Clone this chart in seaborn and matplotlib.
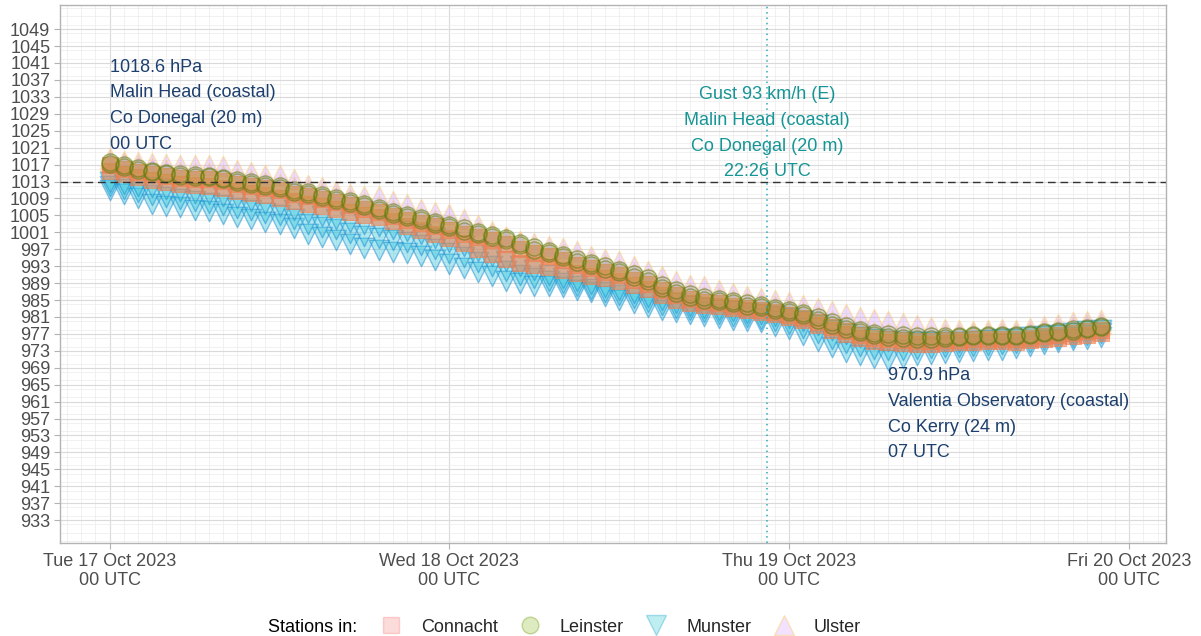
import numpy as np
import pandas as pd
import matplotlib
matplotlib.use("Agg")
import matplotlib.pyplot as plt
import seaborn as sns
from matplotlib.lines import Line2D
from matplotlib.ticker import FixedLocator, MultipleLocator

sns.set_theme(style="white")
plt.rcParams['font.family'] = ['Liberation Sans', 'DejaVu Sans']

# ---------------- data ----------------
hours = list(range(71))  # hours since Tue 17 Oct 2023 00 UTC

connacht_a = [1016.8,1016.0,1015.3,1014.7,1014.3,1013.9,1013.6,1013.5,1013.1,1012.5,
              1012.0,1011.5,1010.9,1010.1,1009.5,1008.9,1008.2,1007.4,1006.6,1005.8,
              1004.9,1004.0,1003.2,1002.4,1001.6,1000.7,999.9,999.1,998.2,997.0,
              996.1,995.3,994.4,993.3,992.5,991.7,990.9,989.8,988.8,987.3,
              986.1,985.2,984.5,984.2,983.7,983.1,982.7,982.1,981.5,980.8,
              979.8,978.6,977.6,976.8,976.1,975.7,975.5,975.3,975.3,975.5,
              975.6,975.8,975.9,975.9,975.8,976.1,976.5,976.8,977.2,977.6,978.0]
connacht_b = [1015.5,1014.8,1014.0,1013.4,1012.9,1012.5,1012.1,1011.9,1011.4,1010.8,
              1010.4,1009.8,1009.2,1008.4,1007.8,1007.2,1006.6,1005.9,1005.2,1004.5,
              1003.6,1002.6,1001.6,1000.6,999.6,998.4,997.0,995.8,994.6,993.8,
              993.2,992.7,992.2,991.4,990.7,990.1,989.5,988.5,987.6,986.2,
              985.0,984.3,983.8,983.6,983.2,982.6,982.2,981.6,981.0,980.2,
              979.1,977.9,976.9,976.1,975.4,975.0,974.8,974.7,974.7,974.9,
              975.0,975.2,975.3,975.3,975.2,975.5,975.8,976.1,976.4,976.8,977.1]
leinster_a = [1017.2,1016.5,1015.8,1015.2,1014.8,1014.4,1014.1,1014.0,1013.6,1013.0,
              1012.5,1012.0,1011.4,1010.6,1010.0,1009.4,1008.7,1007.9,1007.1,1006.3,
              1005.4,1004.5,1003.8,1003.0,1002.2,1001.4,1000.6,999.9,999.1,997.9,
              996.9,996.0,995.1,994.0,993.2,992.4,991.6,990.5,989.5,987.9,
              986.7,985.8,985.1,984.8,984.3,983.7,983.3,982.7,982.1,981.4,
              980.4,979.2,978.2,977.4,976.7,976.3,976.1,975.9,975.9,976.1,
              976.2,976.4,976.5,976.5,976.4,976.7,977.1,977.4,977.8,978.2,978.6]
leinster_b = [1017.5,1016.9,1016.2,1015.6,1015.1,1014.8,1014.5,1014.3,1013.9,1013.4,
              1012.9,1012.4,1011.9,1011.1,1010.5,1009.9,1009.2,1008.4,1007.6,1006.8,
              1005.9,1005.0,1004.3,1003.5,1002.7,1001.9,1001.1,1000.4,999.6,998.5,
              997.5,996.6,995.7,994.6,993.8,993.0,992.2,991.1,990.1,988.6,
              987.4,986.4,985.7,985.3,984.8,984.2,983.8,983.2,982.6,981.9,
              980.9,979.8,978.8,978.0,977.3,976.9,976.7,976.5,976.4,976.5,
              976.6,976.7,976.8,976.8,976.7,977.0,977.4,977.7,978.1,978.5,978.9]
munster_a = [1011.1,1010.0,1009.2,1007.6,1007.2,1006.9,1006.2,1006.0,1005.4,1004.7,
             1004.2,1003.5,1003.0,1001.9,1000.6,999.8,999.3,998.3,997.3,996.8,
             996.4,996.0,995.5,994.4,993.4,992.6,991.6,990.6,989.6,989.0,
             988.4,988.2,988.0,987.4,986.8,986.0,985.1,984.2,983.3,982.7,
             982.1,981.7,981.3,980.8,980.4,980.0,979.7,978.9,978.1,976.8,
             975.3,973.8,972.8,972.1,971.4,970.9,971.3,971.9,972.3,972.6,
             972.8,973.0,973.1,973.3,973.7,974.1,974.5,975.0,975.5,975.9,976.2]
munster_b = [1012.0,1011.3,1010.6,1009.8,1009.3,1008.8,1008.3,1008.0,1007.5,1006.8,
             1006.2,1005.6,1005.0,1004.1,1003.0,1002.3,1001.7,1000.9,1000.1,999.6,
             999.1,998.6,998.0,997.0,996.0,995.1,994.1,993.0,991.9,991.0,
             990.2,989.6,989.1,988.4,987.7,987.0,986.2,985.4,984.5,983.8,
             983.1,982.6,982.2,981.7,981.3,980.9,980.6,980.0,979.4,978.4,
             977.1,975.8,974.9,974.2,973.5,973.1,973.2,973.4,973.6,973.8,
             974.0,974.2,974.3,974.5,974.8,975.1,975.5,975.9,976.3,976.7,977.1]
munster_c = [1012.8,1012.4,1012.0,1011.6,1011.2,1010.8,1010.4,1010.1,1009.6,1009.0,
             1008.4,1007.8,1007.1,1006.3,1005.5,1004.8,1004.1,1003.5,1003.0,1002.4,
             1001.8,1001.2,1000.5,999.6,998.7,997.7,996.6,995.5,994.3,993.1,
             992.0,991.0,990.2,989.4,988.7,988.0,987.3,986.6,985.8,985.0,
             984.2,983.6,983.1,982.7,982.3,981.9,981.6,981.2,980.7,980.0,
             979.0,977.9,977.0,976.3,975.7,975.3,975.1,975.0,975.0,975.1,
             975.2,975.4,975.5,975.7,975.9,976.2,976.5,976.8,977.2,977.6,978.0]
ulster_a = [1018.6,1017.9,1017.7,1017.3,1017.1,1017.0,1016.9,1017.0,1016.6,1015.7,
            1015.2,1014.6,1014.6,1013.6,1012.2,1011.6,1010.8,1010.0,1009.6,1009.5,
            1008.4,1007.8,1006.4,1005.9,1005.3,1004.1,1002.8,1001.4,1000.0,998.9,
            998.4,997.7,997.2,996.5,995.4,994.8,994.2,993.0,991.8,990.6,
            989.6,988.6,988.2,987.4,986.6,986.0,985.4,985.0,984.6,983.8,
            983.0,982.3,981.7,981.1,980.5,980.1,979.6,979.0,978.6,978.2,
            977.9,977.8,978.0,978.1,977.9,978.3,978.9,979.3,979.7,980.1,980.2]
ulster_b = [1017.9,1017.3,1016.7,1016.1,1015.7,1015.3,1015.0,1014.9,1014.5,1013.9,
            1013.4,1012.9,1012.4,1011.6,1010.9,1010.3,1009.6,1008.8,1008.0,1007.2,
            1006.3,1005.4,1004.6,1003.8,1003.0,1002.2,1001.4,1000.6,999.8,998.6,
            997.6,996.7,995.8,994.8,994.0,993.2,992.4,991.3,990.3,988.7,
            987.5,986.6,985.9,985.6,985.1,984.5,984.1,983.5,982.9,982.2,
            981.2,980.0,979.0,978.2,977.5,977.1,976.9,976.7,976.7,976.9,
            977.0,977.2,977.3,977.3,977.2,977.5,977.9,978.2,978.6,979.0,979.4]

provinces = ["Connacht", "Leinster", "Munster", "Ulster"]
station_series = {
    "Connacht": [connacht_a, connacht_b],
    "Leinster": [leinster_a, leinster_b],
    "Munster": [munster_a, munster_b, munster_c],
    "Ulster": [ulster_a, ulster_b],
}

day_ticks = [0, 24, 48, 72]
day_labels = ["Tue 17 Oct 2023\n00 UTC", "Wed 18 Oct 2023\n00 UTC",
              "Thu 19 Oct 2023\n00 UTC", "Fri 20 Oct 2023\n00 UTC"]
y_ticks = list(range(933, 1050, 4))
mslp_ref = 1013
gust_hour = 46 + 26 / 60
max_hour, max_val = 0, 1018.6
min_hour, min_val = 55, 970.9

rows = []
for prov, series in station_series.items():
    for k, vals in enumerate(series):
        for h, v in zip(hours, vals):
            rows.append((prov, f"{prov}{k}", h, v))
df = pd.DataFrame(rows, columns=["province", "station", "hour", "pressure"])

# ---------------- styles ----------------
style = {
    "Ulster":   dict(marker="^", s=215, fc=(0.80, 0.58, 1.0, 0.32), ec=(1.0, 0.80, 0.40, 0.45), lw=1.0),
    "Munster":  dict(marker="v", s=215, fc=(0.22, 0.78, 0.87, 0.40), ec=(0.10, 0.55, 0.82, 0.50), lw=1.0),
    "Connacht": dict(marker="s", s=125, fc=(0.95, 0.50, 0.30, 0.58), ec=(0.95, 0.50, 0.30, 0.55), lw=0.8),
    "Leinster": dict(marker="o", s=150, fc=(0.55, 0.66, 0.20, 0.16), ec=(0.35, 0.48, 0.05, 0.55), lw=1.0),
}

fig = plt.figure(figsize=(12.01, 6.36), dpi=100)
ax = fig.add_axes([60 / 1201, 1 - 543 / 636, (1166 - 60) / 1201, (543 - 5) / 636])

for prov in ["Ulster", "Munster", "Connacht", "Leinster"]:
    st = style[prov]
    for stn in df.loc[df.province == prov, "station"].unique():
        sub = df[df.station == stn]
        sns.scatterplot(data=sub, x="hour", y="pressure", marker=st["marker"], s=st["s"],
                        color=st["fc"][:3], ax=ax, legend=False, zorder=3)
        coll = ax.collections[-1]
        coll.set_facecolor(st["fc"])
        coll.set_edgecolor(st["ec"])
        coll.set_linewidth(st["lw"])

ax.axhline(mslp_ref, color="#333333", lw=1.0, dashes=(5.5, 3.5), zorder=4)
ax.axvline(gust_hour, color="#2FA8B8", lw=1.1, linestyle=(0, (1, 2.5)), zorder=4)

ax.text(max_hour, 1030.9, f"{max_val} hPa\nMalin Head (coastal)\nCo Donegal (20 m)\n00 UTC",
        ha="left", va="center", fontsize=13, color="#1C3F6E", linespacing=1.66, zorder=5)
ax.text(gust_hour, 1024.4, "Gust 93 km/h (E)\nMalin Head (coastal)\nCo Donegal (20 m)\n22:26 UTC",
        ha="center", va="center", fontsize=13, color="#159595", linespacing=1.66, zorder=5)
ax.text(min_hour, 958.0, f"{min_val} hPa\nValentia Observatory (coastal)\nCo Kerry (24 m)\n07 UTC",
        ha="left", va="center", fontsize=13, color="#1C3F6E", linespacing=1.66, zorder=5)

ax.set_xlim(-3.5, 74.6)
ax.set_ylim(927.6, 1054.7)
ax.xaxis.set_major_locator(FixedLocator(day_ticks))
ax.xaxis.set_minor_locator(MultipleLocator(1))
ax.yaxis.set_major_locator(FixedLocator(y_ticks))
ax.yaxis.set_minor_locator(MultipleLocator(2))
ax.set_xticklabels(day_labels, linespacing=1.15)
ax.set_yticklabels([str(t) for t in y_ticks])
ax.set_xlabel("")
ax.set_ylabel("")

ax.set_facecolor("white")
ax.set_axisbelow(True)
ax.grid(which="major", color="#DADADA", lw=0.8)
ax.grid(which="minor", color="#EBEBEB", lw=0.5)
for sp in ax.spines.values():
    sp.set_visible(True)
    sp.set_color("#B3B3B3")
    sp.set_linewidth(1.0)
ax.tick_params(which="major", length=4, width=0.8, color="#B3B3B3",
               labelcolor="#4D4D4D", labelsize=13, pad=3, bottom=True, left=True)
ax.tick_params(which="minor", length=0)

# legend
fig.text(268 / 1201, 1 - 627 / 636, "Stations in:", fontsize=13, color="black", ha="left", va="center")
legend_style = {
    "Connacht": dict(marker="s", ms=11, mfc=(0.97, 0.46, 0.43, 0.25), mec=(0.97, 0.46, 0.43, 0.3)),
    "Leinster": dict(marker="o", ms=12, mfc=(0.49, 0.68, 0.0, 0.25), mec=(0.40, 0.60, 0.0, 0.35)),
    "Munster":  dict(marker="v", ms=14, mfc=(0.0, 0.75, 0.77, 0.25), mec=(0.0, 0.60, 0.80, 0.3)),
    "Ulster":   dict(marker="^", ms=14, mfc=(0.78, 0.49, 1.0, 0.22), mec=(1.0, 0.80, 0.40, 0.45)),
}
handles = [Line2D([], [], linestyle="none", label=p, **legend_style[p]) for p in provinces]
fig.legend(handles=handles, ncol=4, loc="center left", frameon=False, fontsize=13,
           bbox_to_anchor=(380 / 1201, 1 - 627 / 636), handlelength=1.2,
           handletextpad=1.05, columnspacing=1.2, borderpad=0, borderaxespad=0)

fig.savefig("out.png", dpi=100)
